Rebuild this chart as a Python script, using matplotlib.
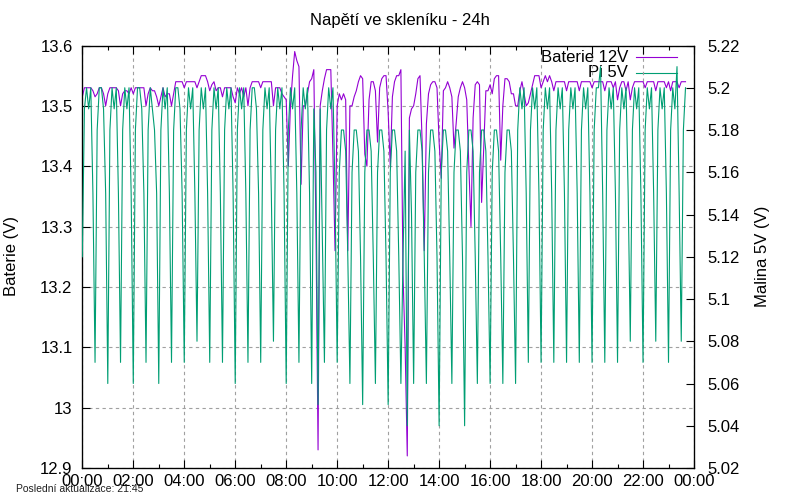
import numpy as np
import matplotlib
matplotlib.use("Agg")
import matplotlib.pyplot as plt
from matplotlib.ticker import FixedLocator, MultipleLocator, FuncFormatter
from matplotlib.lines import Line2D

plt.rcParams['font.family'] = ['Liberation Sans', 'DejaVu Sans']

title = "Napětí ve skleníku - 24h"
ylabel_left = "Baterie (V)"
ylabel_right = "Malina 5V (V)"
footer = "Poslední aktualizace: 21:45"
series_names = ["Baterie 12V", "Pi 5V"]
step_minutes = 5
x_tick_hours = [0, 2, 4, 6, 8, 10, 12, 14, 16, 18, 20, 22, 24]
x_tick_labels = ["00:00", "02:00", "04:00", "06:00", "08:00", "10:00", "12:00",
                 "14:00", "16:00", "18:00", "20:00", "22:00", "00:00"]
left_ticks = [12.9, 13.0, 13.1, 13.2, 13.3, 13.4, 13.5, 13.6]
right_ticks = [5.02, 5.04, 5.06, 5.08, 5.10, 5.12, 5.14, 5.16, 5.18, 5.20, 5.22]

# Baterie 12V, one row per hour (5-minute samples)
baterie_12v = [
    13.515, 13.53, 13.53, 13.53, 13.53, 13.525, 13.515, 13.52, 13.53, 13.53, 13.52, 13.50,
    13.52, 13.53, 13.53, 13.53, 13.53, 13.525, 13.50, 13.52, 13.525, 13.525, 13.52, 13.53,
    13.52, 13.53, 13.53, 13.53, 13.53, 13.53, 13.50, 13.52, 13.53, 13.525, 13.525, 13.515,
    13.50, 13.515, 13.53, 13.515, 13.52, 13.52, 13.50, 13.52, 13.54, 13.54, 13.54, 13.54,
    13.53, 13.54, 13.54, 13.54, 13.54, 13.54, 13.53, 13.54, 13.55, 13.55, 13.55, 13.54,
    13.525, 13.535, 13.54, 13.525, 13.53, 13.53, 13.515, 13.53, 13.53, 13.53, 13.53, 13.515,
    13.505, 13.53, 13.52, 13.53, 13.515, 13.53, 13.50, 13.53, 13.54, 13.54, 13.54, 13.54,
    13.53, 13.54, 13.54, 13.54, 13.54, 13.54, 13.50, 13.53, 13.53, 13.53, 13.52, 13.515,
    13.51, 13.40, 13.50, 13.55, 13.59, 13.575, 13.565, 13.37, 13.50, 13.50, 13.52, 13.54,
    13.545, 13.56, 13.30, 12.93, 13.50, 13.525, 13.545, 13.56, 13.56, 13.56, 13.42, 13.26,
    13.50, 13.52, 13.51, 13.52, 13.51, 13.26, 13.50, 13.50, 13.515, 13.525, 13.54, 13.55,
    13.545, 13.42, 13.40, 13.51, 13.54, 13.54, 13.525, 13.44, 13.53, 13.545, 13.55, 13.55,
    13.49, 13.40, 13.515, 13.54, 13.55, 13.55, 13.56, 13.22, 13.10, 12.92, 13.48, 13.495,
    13.50, 13.52, 13.545, 13.55, 13.44, 13.26, 13.47, 13.52, 13.535, 13.54, 13.54, 13.53,
    13.44, 13.38, 13.525, 13.53, 13.54, 13.53, 13.515, 13.43, 13.47, 13.515, 13.53, 13.54,
    13.53, 13.51, 13.40, 13.30, 13.48, 13.535, 13.54, 13.535, 13.34, 13.43, 13.525, 13.525,
    13.535, 13.52, 13.545, 13.55, 13.55, 13.41, 13.50, 13.545, 13.545, 13.54, 13.52, 13.52,
    13.50, 13.50, 13.525, 13.54, 13.52, 13.50, 13.505, 13.52, 13.535, 13.55, 13.55, 13.55,
    13.53, 13.54, 13.55, 13.54, 13.55, 13.54, 13.525, 13.54, 13.54, 13.54, 13.54, 13.54,
    13.525, 13.54, 13.54, 13.54, 13.54, 13.54, 13.525, 13.54, 13.54, 13.54, 13.54, 13.54,
    13.53, 13.54, 13.54, 13.54, 13.54, 13.54, 13.525, 13.54, 13.54, 13.54, 13.53, 13.54,
    13.51, 13.53, 13.54, 13.54, 13.525, 13.54, 13.51, 13.53, 13.54, 13.54, 13.54, 13.54,
    13.54, 13.53, 13.54, 13.54, 13.54, 13.54, 13.525, 13.54, 13.54, 13.54, 13.54, 13.53,
    13.54, 13.525, 13.54, 13.54, 13.54, 13.53, 13.54, 13.54, 13.54,
]

# Pi 5V, one row per hour (5-minute samples)
pi_5v = [
    5.12, 5.19, 5.20, 5.19, 5.20, 5.15, 5.07, 5.18, 5.20, 5.20, 5.19, 5.15,
    5.06, 5.18, 5.20, 5.19, 5.20, 5.15, 5.07, 5.18, 5.20, 5.19, 5.20, 5.15,
    5.06, 5.18, 5.20, 5.20, 5.19, 5.15, 5.07, 5.18, 5.20, 5.19, 5.18, 5.15,
    5.06, 5.18, 5.20, 5.19, 5.20, 5.15, 5.07, 5.18, 5.20, 5.20, 5.19, 5.15,
    5.07, 5.18, 5.20, 5.19, 5.20, 5.15, 5.08, 5.18, 5.20, 5.19, 5.20, 5.15,
    5.07, 5.18, 5.20, 5.19, 5.20, 5.15, 5.07, 5.18, 5.20, 5.19, 5.20, 5.15,
    5.06, 5.18, 5.20, 5.19, 5.20, 5.15, 5.07, 5.18, 5.20, 5.20, 5.19, 5.15,
    5.07, 5.18, 5.20, 5.19, 5.20, 5.15, 5.08, 5.18, 5.20, 5.19, 5.20, 5.15,
    5.06, 5.18, 5.20, 5.19, 5.20, 5.15, 5.07, 5.18, 5.20, 5.19, 5.20, 5.15,
    5.06, 5.19, 5.16, 5.05, 5.19, 5.13, 5.07, 5.18, 5.20, 5.19, 5.20, 5.15,
    5.07, 5.16, 5.18, 5.18, 5.17, 5.12, 5.06, 5.16, 5.18, 5.18, 5.17, 5.12,
    5.05, 5.16, 5.18, 5.18, 5.17, 5.12, 5.06, 5.16, 5.18, 5.18, 5.17, 5.12,
    5.05, 5.16, 5.18, 5.18, 5.17, 5.12, 5.06, 5.12, 5.17, 5.04, 5.18, 5.14,
    5.06, 5.16, 5.18, 5.18, 5.17, 5.12, 5.06, 5.16, 5.18, 5.18, 5.17, 5.12,
    5.04, 5.16, 5.18, 5.18, 5.17, 5.12, 5.06, 5.16, 5.18, 5.18, 5.17, 5.12,
    5.04, 5.16, 5.18, 5.18, 5.17, 5.12, 5.06, 5.16, 5.18, 5.18, 5.17, 5.12,
    5.06, 5.16, 5.18, 5.18, 5.17, 5.12, 5.06, 5.16, 5.18, 5.18, 5.17, 5.12,
    5.06, 5.18, 5.20, 5.19, 5.20, 5.15, 5.07, 5.18, 5.20, 5.19, 5.20, 5.15,
    5.07, 5.18, 5.20, 5.19, 5.20, 5.15, 5.07, 5.18, 5.20, 5.19, 5.20, 5.15,
    5.07, 5.18, 5.20, 5.19, 5.20, 5.15, 5.07, 5.18, 5.20, 5.19, 5.20, 5.15,
    5.07, 5.18, 5.20, 5.20, 5.21, 5.15, 5.07, 5.18, 5.20, 5.19, 5.20, 5.15,
    5.07, 5.18, 5.20, 5.19, 5.20, 5.15, 5.08, 5.18, 5.20, 5.19, 5.20, 5.15,
    5.07, 5.18, 5.20, 5.19, 5.20, 5.15, 5.08, 5.18, 5.20, 5.19, 5.20, 5.15,
    5.07, 5.18, 5.20, 5.19, 5.21, 5.15, 5.08, 5.18, 5.20,
]

hours = np.arange(len(baterie_12v)) * step_minutes / 60.0

purple = '#9400d3'
green = '#009e73'
W, H = 800, 500
L, R, T, B = 82.3, 694, 45.5, 468

fig = plt.figure(figsize=(8, 5), dpi=100)
ax = fig.add_axes([L / W, 1 - B / H, (R - L) / W, (B - T) / H])
ax.plot(hours, baterie_12v, color=purple, lw=0.8, zorder=3)
ax.set_xlim(0, 24)
ax.set_ylim(12.9, 13.6)

ax.xaxis.set_major_locator(FixedLocator(x_tick_hours))
ax.set_xticklabels(x_tick_labels)
ax.xaxis.set_minor_locator(MultipleLocator(1))
ax.yaxis.set_major_locator(FixedLocator(left_ticks))
ax.yaxis.set_major_formatter(FuncFormatter(lambda v, p: f"{v:g}"))
ax.grid(True, which='major', color='#a0a0a0', linestyle=(0, (3, 3)), lw=0.8)
ax.tick_params(axis='x', which='major', direction='in', length=6, width=0.8,
               top=True, bottom=True, labelsize=12, pad=4)
ax.tick_params(axis='x', which='minor', direction='in', length=3, width=0.8,
               top=True, bottom=True)
ax.tick_params(axis='y', which='major', direction='in', length=6, width=0.8,
               left=True, right=False, labelsize=12, pad=7)
for s in ax.spines.values():
    s.set_linewidth(0.9)

ax2 = ax.twinx()
ax2.plot(hours, pi_5v, color=green, lw=0.8, zorder=3)
ax2.set_ylim(5.02, 5.22)
ax2.yaxis.set_major_locator(FixedLocator(right_ticks))
ax2.yaxis.set_major_formatter(FuncFormatter(lambda v, p: f"{v:g}"))
ax2.tick_params(axis='y', which='major', direction='in', length=6, width=0.8,
                labelsize=12, pad=9.5)

fig.text(399.5 / W, 1 - 20.5 / H, title, ha='center', va='center', fontsize=12)
fig.text(12 / W, 1 - 256 / H, ylabel_left, rotation=90, ha='center', va='center', fontsize=12)
fig.text(762 / W, 1 - 256 / H, ylabel_right, rotation=90, ha='center', va='center', fontsize=12)
fig.text(16 / W, 1 - 489 / H, footer, ha='left', va='center', fontsize=7.5, color='#202020')

# legend (drawn under the data, like the reference)
for name, col, yy in [(series_names[0], purple, 57.3), (series_names[1], green, 72.7)]:
    ax.text(628 / W, 1 - yy / H, name, transform=fig.transFigure, ha='right',
            va='center', fontsize=12, zorder=1)
    ax.add_line(Line2D([636 / W, 677 / W], [1 - yy / H, 1 - yy / H],
                       transform=fig.transFigure, color=col, lw=0.8, zorder=1))

fig.savefig("out.png", dpi=100)
